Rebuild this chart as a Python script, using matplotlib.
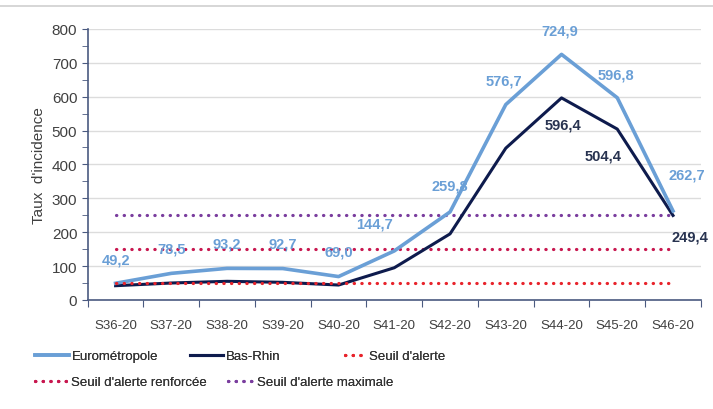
import matplotlib.pyplot as plt
from matplotlib.lines import Line2D
from matplotlib.ticker import MultipleLocator, FixedLocator, NullFormatter

plt.rcParams['font.family'] = ['Liberation Sans Narrow', 'Liberation Sans', 'DejaVu Sans']

semaines = ["S36-20", "S37-20", "S38-20", "S39-20", "S40-20", "S41-20",
            "S42-20", "S43-20", "S44-20", "S45-20", "S46-20"]
eurometropole = [49.2, 78.5, 93.2, 92.7, 69.0, 144.7, 259.8, 576.7, 724.9, 596.8, 262.7]
bas_rhin = [42, 50, 55, 52, 44, 95, 195, 448, 596.4, 504.4, 249.4]
seuil_alerte = 50
seuil_renforcee = 150
seuil_maximale = 250

# labels shown on the chart (index, offset in points)
euro_labels = [(0, (0, 17)), (1, (0, 18)), (2, (0, 18)), (3, (0, 18)), (4, (0, 18)),
               (5, (-14, 20)), (6, (0, 19)), (7, (-1, 17)), (8, (-1, 17)),
               (9, (-1, 17)), (10, (10, 26))]
bas_labels = [(8, (1, -19)), (9, (-10, -19)), (10, (12, -15))]

c_euro = "#6a9fd6"
c_bas = "#0e1b4d"

fig = plt.figure(figsize=(7.13, 4.10), dpi=100)
ax = fig.add_axes([0.123, 0.266, 0.86, 0.661])
x = list(range(len(semaines)))

dots = (0, (0.1, 2.3))
l_alerte, = ax.plot(x, [seuil_alerte] * len(x), color="#e8232b", lw=2.3, ls=dots,
                    dash_capstyle="round", zorder=4)
l_renf, = ax.plot(x, [seuil_renforcee] * len(x), color="#c8174f", lw=2.3, ls=dots,
                  dash_capstyle="round", zorder=2)
l_max, = ax.plot(x, [seuil_maximale] * len(x), color="#7a3d9e", lw=2.3, ls=dots,
                 dash_capstyle="round", zorder=2)
l_bas, = ax.plot(x, bas_rhin, color=c_bas, lw=2.2, zorder=3)
l_euro, = ax.plot(x, eurometropole, color=c_euro, lw=2.6, zorder=3)

for i, off in euro_labels:
    ax.annotate(f"{eurometropole[i]:.1f}".replace(".", ","), (x[i], eurometropole[i]),
                xytext=off, textcoords="offset points", ha="center", va="center",
                color=c_euro, fontsize=10.5, fontweight="bold", zorder=5)
for i, off in bas_labels:
    ax.annotate(f"{bas_rhin[i]:.1f}".replace(".", ","), (x[i], bas_rhin[i]),
                xytext=off, textcoords="offset points", ha="center", va="center",
                color="#283350", fontsize=10.5, fontweight="bold", zorder=5)

ax.set_xlim(-0.5, len(x) - 0.5)
ax.set_ylim(0, 800)
ax.yaxis.set_major_locator(MultipleLocator(100))
ax.yaxis.set_minor_locator(MultipleLocator(50))
ax.xaxis.set_major_locator(FixedLocator([i - 0.5 for i in range(len(x) + 1)]))
ax.xaxis.set_major_formatter(NullFormatter())
ax.xaxis.set_minor_locator(FixedLocator(x))
ax.set_xticklabels(semaines, minor=True)
ax.tick_params(axis="x", which="minor", length=0, pad=14, labelsize=9.5, colors="#404040")
ax.tick_params(axis="x", which="major", length=5, color="#4a5a80")
ax.tick_params(axis="y", which="both", length=4, color="#4a5a80", labelsize=11, labelcolor="#404040")
ax.grid(axis="y", which="major", color="#dcdcdc", lw=1)
ax.set_axisbelow(True)
for s in ["top", "right"]:
    ax.spines[s].set_visible(False)
for s in ["left", "bottom"]:
    ax.spines[s].set_color("#4a5a80")
    ax.spines[s].set_linewidth(1.2)
ax.set_ylabel("Taux  d'incidence", fontsize=11, color="#404040", labelpad=4)

# legend entries placed like the original (left px, centre px, handle length)
entries = [(l_euro, "Eurométropole", 35, 357, 2.6),
           (l_bas, "Bas-Rhin", 190, 357, 2.5),
           (l_alerte, "Seuil d'alerte", 345, 357, 1.6),
           (l_renf, "Seuil d'alerte renforcée", 35, 383, 2.5),
           (l_max, "Seuil d'alerte maximale", 228, 383, 2.0)]
for h, lab, px, py, hl in entries:
    lg = fig.legend([h], [lab], loc="center left", bbox_to_anchor=(px / 713, 1 - py / 410),
                    frameon=False, fontsize=9.5, handlelength=hl, handletextpad=0.2,
                    borderpad=0, borderaxespad=0, labelcolor="#333333")
    fig.add_artist(lg)

fig.add_artist(Line2D([0.0, 1.0], [0.982, 0.982], color="#d0d0d0", lw=1.2))
fig.savefig("out.png", dpi=100)
